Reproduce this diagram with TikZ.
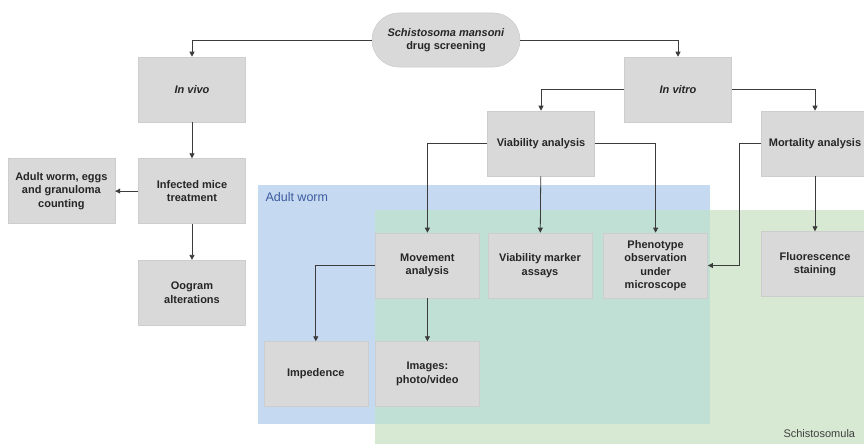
\documentclass[tikz,border=0pt]{standalone}
\usepackage{fontspec}
\setmainfont{Liberation Sans}
\usepackage{tikz}
\usetikzlibrary{positioning,arrows.meta}

\definecolor{boxgray}{RGB}{217,217,217}
\definecolor{boxedge}{RGB}{205,205,205}
\definecolor{wormblue}{RGB}{197,218,240}
\definecolor{schistogreen}{RGB}{215,232,211}
\definecolor{overlapteal}{RGB}{192,224,214}
\definecolor{linegray}{RGB}{60,60,60}
\definecolor{labelblue}{RGB}{60,90,160}

\begin{document}
\begin{tikzpicture}
[x=1pt, y=-1pt,
box/.style={rectangle, fill=boxgray, draw=boxedge, line width=0.6pt, minimum width=107pt, minimum height=65pt, align=center, text=black!85, font=\fontsize{11}{13.5}\selectfont\bfseries},
smallbox/.style={box, minimum width=104pt},
pill/.style={box, rounded corners=27pt, minimum width=148pt, minimum height=54pt},
arr/.style={draw=linegray, line width=0.8pt, -{Triangle[width=5pt,length=5pt]}},
]
\clip (0,0) rectangle (864,444);
\fill[white] (0,0) rectangle (864,444);

% regions
\fill[wormblue] (258,185) rectangle (710,424);
\fill[schistogreen] (375,210) rectangle (880,460);
\fill[overlapteal] (375,210) rectangle (710,424);
\node[anchor=west, text=labelblue, font=\fontsize{12.5}{14}\selectfont] (lblworm) at (262,197) {Adult worm};
\node[anchor=west, text=black!75, font=\fontsize{11}{13}\selectfont] (lblschisto) at (780,434) {Schistosomula};

% top level
\node[pill] (root) at (446,40) {\textit{Schistosoma mansoni}\\drug screening};
\node[box] (invivo) at (192,89.5) {\textit{In vivo}};
\node[box] (invitro) at (678,89.5) {\textit{In vitro}};

% in vivo branch
\node[box] (infected) [below=36pt of invivo] {Infected mice\\treatment};
\node[box] (oogram) [below=36pt of infected] {Oogram\\alterations};
\node[box] (counting) [left=23pt of infected] {Adult worm, eggs\\and granuloma\\counting};

% in vitro branch
\node[box] (viab) at (541,143.5) {Viability analysis};
\node[box] (mort) at (815,143.5) {Mortality analysis};
\node[smallbox] (marker) at (540,265.5) {Viability marker\\assays};
\node[smallbox] (movement) [left=8pt of marker] {Movement\\analysis};
\node[smallbox] (pheno) [right=11pt of marker] {Phenotype\\observation\\under\\microscope};
\node[box] (fluor) [below=55pt of mort] {Fluorescence\\staining};
\node[smallbox] (images) [below=43pt of movement] {Images:\\photo/video};
\node[smallbox] (imped) [left=7pt of images] {Impedence};

\draw[arr] (root.west) -| (invivo.north);
\draw[arr] (root.east) -| (invitro.north);
\draw[arr] (invivo) -- (infected);
\draw[arr] (infected) -- (oogram);
\draw[arr] (infected) -- (counting);
\draw[arr] (invitro.west) -| (viab.north);
\draw[arr] (invitro.east) -| (mort.north);
\draw[arr] (viab.west) -| (movement.north);
\draw[arr] (viab) -- (marker);
\draw[arr] (viab.east) -| (pheno.north);
\draw[arr] (mort.west) -- ++(-22pt,0pt) |- (pheno.east);
\draw[arr] (mort) -- (fluor);
\draw[arr] (movement.west) -| (imped.north);
\draw[arr] (movement) -- (images);
\end{tikzpicture}
\end{document}
